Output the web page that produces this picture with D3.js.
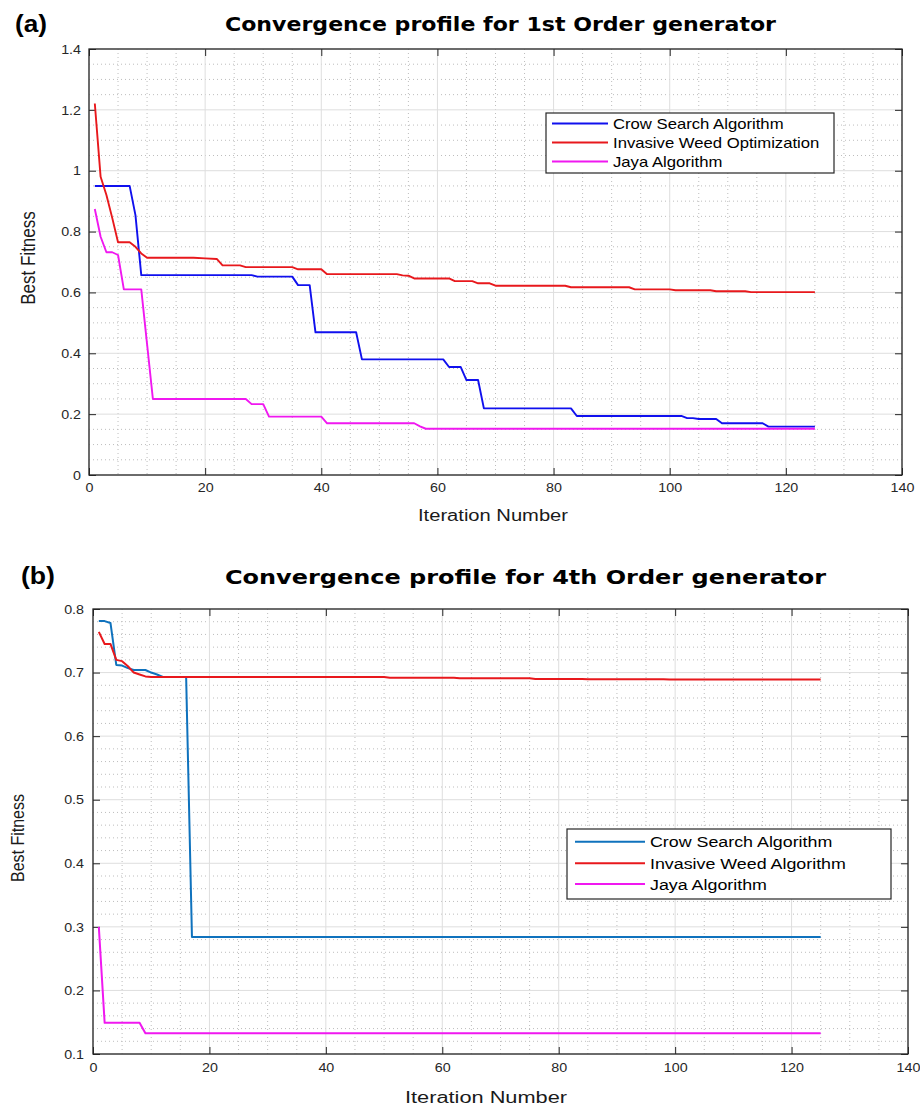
<!DOCTYPE html>
<html><head><meta charset="utf-8">
<script src="https://cdn.jsdelivr.net/npm/d3@7"></script>
<style>
html,body{margin:0;padding:0;background:#fff;}
svg{display:block;}
text{font-family:"Liberation Sans",Arial,sans-serif;}
</style></head>
<body>
<svg id="chart" width="920" height="1107"></svg>
<script>
// ---------- DATA ----------
const xTicks = [0, 20, 40, 60, 80, 100, 120, 140];
const aYTicks = [0, 0.2, 0.4, 0.6, 0.8, 1, 1.2, 1.4];
const aYTickLabels = ["0", "0.2", "0.4", "0.6", "0.8", "1", "1.2", "1.4"];
const bYTicks = [0.1, 0.2, 0.3, 0.4, 0.5, 0.6, 0.7, 0.8];
const bYTickLabels = ["0.1", "0.2", "0.3", "0.4", "0.5", "0.6", "0.7", "0.8"];

const aTitle = "Convergence profile for 1st Order generator";
const bTitle = "Convergence profile for 4th Order generator";
const aNames = ["Crow Search Algorithm", "Invasive Weed Optimization", "Jaya Algorithm"];
const bNames = ["Crow Search Algorithm", "Invasive Weed Algorithm", "Jaya Algorithm"];

// Panel (a) – iteration / best fitness points (plateau ends and changes)
const aCsaIter = [1, 7, 8, 9, 28, 29, 35, 36, 38, 39, 46, 47, 61, 62, 64, 65, 67, 68, 83, 84, 102, 103, 104, 105, 108, 109, 116, 117, 125];
const aCsaVal  = [0.95, 0.95, 0.854, 0.657, 0.657, 0.652, 0.652, 0.624, 0.624, 0.469, 0.469, 0.380, 0.380, 0.355, 0.355, 0.312, 0.312, 0.219, 0.219, 0.194, 0.194, 0.187, 0.187, 0.184, 0.184, 0.170, 0.170, 0.159, 0.159];

const aIwoIter = [1, 2, 3, 4, 5, 7, 8, 9, 10, 18, 20, 22, 23, 26, 27, 35, 36, 40, 41, 53, 54, 55, 56, 62, 63, 66, 67, 69, 70, 82, 83, 93, 94, 100, 101, 107, 108, 113, 114, 125];
const aIwoVal  = [1.221, 0.980, 0.920, 0.845, 0.765, 0.765, 0.750, 0.728, 0.714, 0.714, 0.712, 0.710, 0.689, 0.689, 0.683, 0.683, 0.676, 0.676, 0.660, 0.660, 0.656, 0.655, 0.646, 0.646, 0.637, 0.637, 0.630, 0.630, 0.622, 0.622, 0.617, 0.617, 0.610, 0.610, 0.607, 0.607, 0.604, 0.604, 0.601, 0.601];

const aJayaIter = [1, 2, 3, 4, 5, 6, 9, 10, 11, 27, 28, 30, 31, 40, 41, 56, 57, 58, 125];
const aJayaVal  = [0.874, 0.783, 0.732, 0.732, 0.723, 0.610, 0.610, 0.430, 0.250, 0.250, 0.233, 0.233, 0.192, 0.192, 0.170, 0.170, 0.160, 0.152, 0.152];

// Panel (b)
const bCsaIter = [1, 2, 3, 4, 5, 6, 7, 9, 10, 11, 12, 16, 17, 125];
const bCsaVal  = [0.781, 0.781, 0.778, 0.712, 0.711, 0.707, 0.704, 0.704, 0.700, 0.697, 0.693, 0.693, 0.284, 0.284];

const bIwaIter = [1, 2, 3, 4, 5, 6, 7, 8, 9, 10, 50, 51, 62, 63, 75, 76, 84, 85, 98, 99, 125];
const bIwaVal  = [0.764, 0.745, 0.745, 0.720, 0.718, 0.710, 0.700, 0.697, 0.694, 0.693, 0.693, 0.692, 0.692, 0.691, 0.691, 0.690, 0.690, 0.6895, 0.6895, 0.689, 0.689];

const bJayaIter = [1, 2, 8, 9, 125];
const bJayaVal  = [0.300, 0.149, 0.149, 0.1325, 0.1325];

// ---------- DRAW ----------
const svg = d3.select("#chart");
svg.append("rect").attr("width", 920).attr("height", 1107).attr("fill", "#fff");

function stretch(sel, f) {
  sel.each(function () {
    const L = this.getComputedTextLength();
    d3.select(this).attr("textLength", L * f).attr("lengthAdjust", "spacingAndGlyphs");
  });
}

function panel(cfg) {
  const x = d3.scaleLinear().domain([0, 140]).range([cfg.left, cfg.right]);
  const y = d3.scaleLinear().domain(cfg.yDomain).range([cfg.bottom, cfg.top]);
  const g = svg.append("g");

  // minor grid
  const xMinor = d3.range(0, 29).map(k => k * 5).filter(v => v % 20 !== 0);
  const yMinor = d3.range(0, cfg.nMinor + 1).map(k => cfg.yDomain[0] + k * cfg.minorStep)
    .filter((v, k) => k % cfg.minorPerMajor !== 0);
  g.append("g").selectAll("line").data(xMinor).join("line")
    .attr("x1", d => x(d)).attr("x2", d => x(d)).attr("y1", cfg.top).attr("y2", cfg.bottom)
    .attr("stroke", "#bdbdbd").attr("stroke-width", 1).attr("stroke-dasharray", "1,3");
  g.append("g").selectAll("line").data(yMinor).join("line")
    .attr("y1", d => y(d)).attr("y2", d => y(d)).attr("x1", cfg.left).attr("x2", cfg.right)
    .attr("stroke", "#bdbdbd").attr("stroke-width", 1).attr("stroke-dasharray", "1,3");
  // major grid
  g.append("g").selectAll("line").data(xTicks).join("line")
    .attr("x1", d => x(d)).attr("x2", d => x(d)).attr("y1", cfg.top).attr("y2", cfg.bottom)
    .attr("stroke", "#dedede").attr("stroke-width", 1);
  g.append("g").selectAll("line").data(cfg.yTicks).join("line")
    .attr("y1", d => y(d)).attr("y2", d => y(d)).attr("x1", cfg.left).attr("x2", cfg.right)
    .attr("stroke", "#dedede").attr("stroke-width", 1);

  // axes
  const tk = 7;
  const bottomAx = g.append("g").attr("transform", `translate(0,${cfg.bottom})`)
    .call(d3.axisBottom(x).tickValues(xTicks).tickSizeInner(-tk).tickSizeOuter(0).tickPadding(cfg.xPad).tickFormat(d3.format("d")));
  const leftAx = g.append("g").attr("transform", `translate(${cfg.left},0)`)
    .call(d3.axisLeft(y).tickValues(cfg.yTicks).tickSizeInner(-tk).tickSizeOuter(0).tickPadding(cfg.yPad)
      .tickFormat((d, i) => cfg.yLabels[i]));
  const topAx = g.append("g").attr("transform", `translate(0,${cfg.top})`)
    .call(d3.axisTop(x).tickValues(xTicks).tickSizeInner(-tk).tickSizeOuter(0).tickFormat(""));
  const rightAx = g.append("g").attr("transform", `translate(${cfg.right},0)`)
    .call(d3.axisRight(y).tickValues(cfg.yTicks).tickSizeInner(-tk).tickSizeOuter(0).tickFormat(""));
  [bottomAx, leftAx, topAx, rightAx].forEach(a => {
    a.select(".domain").remove();
    a.selectAll(".tick line").attr("stroke", "#262626").attr("stroke-width", 1);
    a.selectAll("text").attr("fill", "#262626").style("font-size", "13px")
      .style("font-family", '"Liberation Sans", Arial, sans-serif');
  });
  stretch(bottomAx.selectAll("text"), 1.1);
  stretch(leftAx.selectAll("text"), 1.1);
  // box
  g.append("rect").attr("x", cfg.left).attr("y", cfg.top)
    .attr("width", cfg.right - cfg.left).attr("height", cfg.bottom - cfg.top)
    .attr("fill", "none").attr("stroke", "#262626").attr("stroke-width", 1.3);

  // lines
  const line = d3.line().x(d => x(d[0])).y(d => y(d[1]));
  cfg.series.forEach(s => {
    g.append("path").datum(d3.zip(s.iter, s.val)).attr("d", line)
      .attr("fill", "none").attr("stroke", s.color).attr("stroke-width", cfg.lw)
      .attr("stroke-linejoin", "round");
  });

  // legend
  const L = cfg.legend;
  g.append("rect").attr("x", L.x0).attr("y", L.y0).attr("width", L.x1 - L.x0).attr("height", L.y1 - L.y0)
    .attr("fill", "#fff").attr("stroke", "#262626").attr("stroke-width", 1.2);
  cfg.series.forEach((s, i) => {
    const yy = L.rows[i];
    g.append("line").attr("x1", L.lx0).attr("x2", L.lx1).attr("y1", yy).attr("y2", yy)
      .attr("stroke", s.color).attr("stroke-width", cfg.lw);
    g.append("text").attr("x", L.tx).attr("y", yy).attr("dy", "0.36em")
      .style("font-size", L.fs + "px").attr("fill", "#000").text(s.name)
      .call(t => stretch(t, L.sx));
  });

  // titles & labels
  svg.append("text").attr("x", cfg.tagX).attr("y", cfg.tagY)
    .style("font-size", "24px").style("font-weight", "bold").attr("fill", "#000")
    .attr("textLength", cfg.tagW).attr("lengthAdjust", "spacingAndGlyphs").text(cfg.tag);
  svg.append("text").attr("x", cfg.titleX).attr("y", cfg.titleY)
    .style("font-family", '"DejaVu Sans", Verdana, sans-serif')
    .style("font-size", cfg.titleFs + "px").style("font-weight", "bold").attr("fill", "#000")
    .attr("textLength", cfg.titleW).attr("lengthAdjust", "spacingAndGlyphs").text(cfg.title);
  svg.append("text").attr("x", cfg.xLabX).attr("y", cfg.xLabY).attr("text-anchor", "middle")
    .style("font-size", "16px").attr("fill", "#1a1a1a")
    .attr("textLength", cfg.xLabW).attr("lengthAdjust", "spacingAndGlyphs").text("Iteration Number");
  svg.append("text").attr("transform", `translate(${cfg.yLabX},${cfg.yLabY}) scale(1.2,1) rotate(-90)`)
    .attr("text-anchor", "middle").style("font-size", cfg.yLabFs + "px").attr("fill", "#1a1a1a")
    .text("Best Fitness");
}

panel({
  left: 89, right: 902, top: 49, bottom: 475,
  yDomain: [0, 1.4], yTicks: aYTicks, yLabels: aYTickLabels,
  nMinor: 28, minorStep: 0.05, minorPerMajor: 4,
  xPad: 8, yPad: 8, lw: 1.9,
  series: [
    { iter: aCsaIter, val: aCsaVal, color: "#1010ee", name: aNames[0] },
    { iter: aIwoIter, val: aIwoVal, color: "#e8181c", name: aNames[1] },
    { iter: aJayaIter, val: aJayaVal, color: "#f018f0", name: aNames[2] }
  ],
  legend: { x0: 546, x1: 834, y0: 113, y1: 173, lx0: 552, lx1: 608, tx: 613, rows: [123.5, 142.5, 161.5], fs: 14.5, sx: 1.15 },
  tag: "(a)", tagX: 15, tagY: 32, tagW: 32,
  title: aTitle, titleX: 225, titleY: 31, titleFs: 20, titleW: 551,
  xLabX: 493, xLabY: 521, xLabW: 150,
  yLabX: 35, yLabY: 258, yLabFs: 17
});

panel({
  left: 93, right: 908, top: 609, bottom: 1054,
  yDomain: [0.1, 0.8], yTicks: bYTicks, yLabels: bYTickLabels,
  nMinor: 35, minorStep: 0.02, minorPerMajor: 5,
  xPad: 9, yPad: 9, lw: 2,
  series: [
    { iter: bCsaIter, val: bCsaVal, color: "#0f72bd", name: bNames[0] },
    { iter: bIwaIter, val: bIwaVal, color: "#e8181c", name: bNames[1] },
    { iter: bJayaIter, val: bJayaVal, color: "#f018f0", name: bNames[2] }
  ],
  legend: { x0: 567, x1: 891, y0: 829, y1: 899, lx0: 575, lx1: 645, tx: 650, rows: [841.7, 863.3, 884], fs: 15.5, sx: 1.15 },
  tag: "(b)", tagX: 21, tagY: 584, tagW: 34,
  title: bTitle, titleX: 225, titleY: 584, titleFs: 20, titleW: 601,
  xLabX: 486, xLabY: 1103, xLabW: 162,
  yLabX: 24, yLabY: 838, yLabFs: 16
});
</script>
</body></html>
